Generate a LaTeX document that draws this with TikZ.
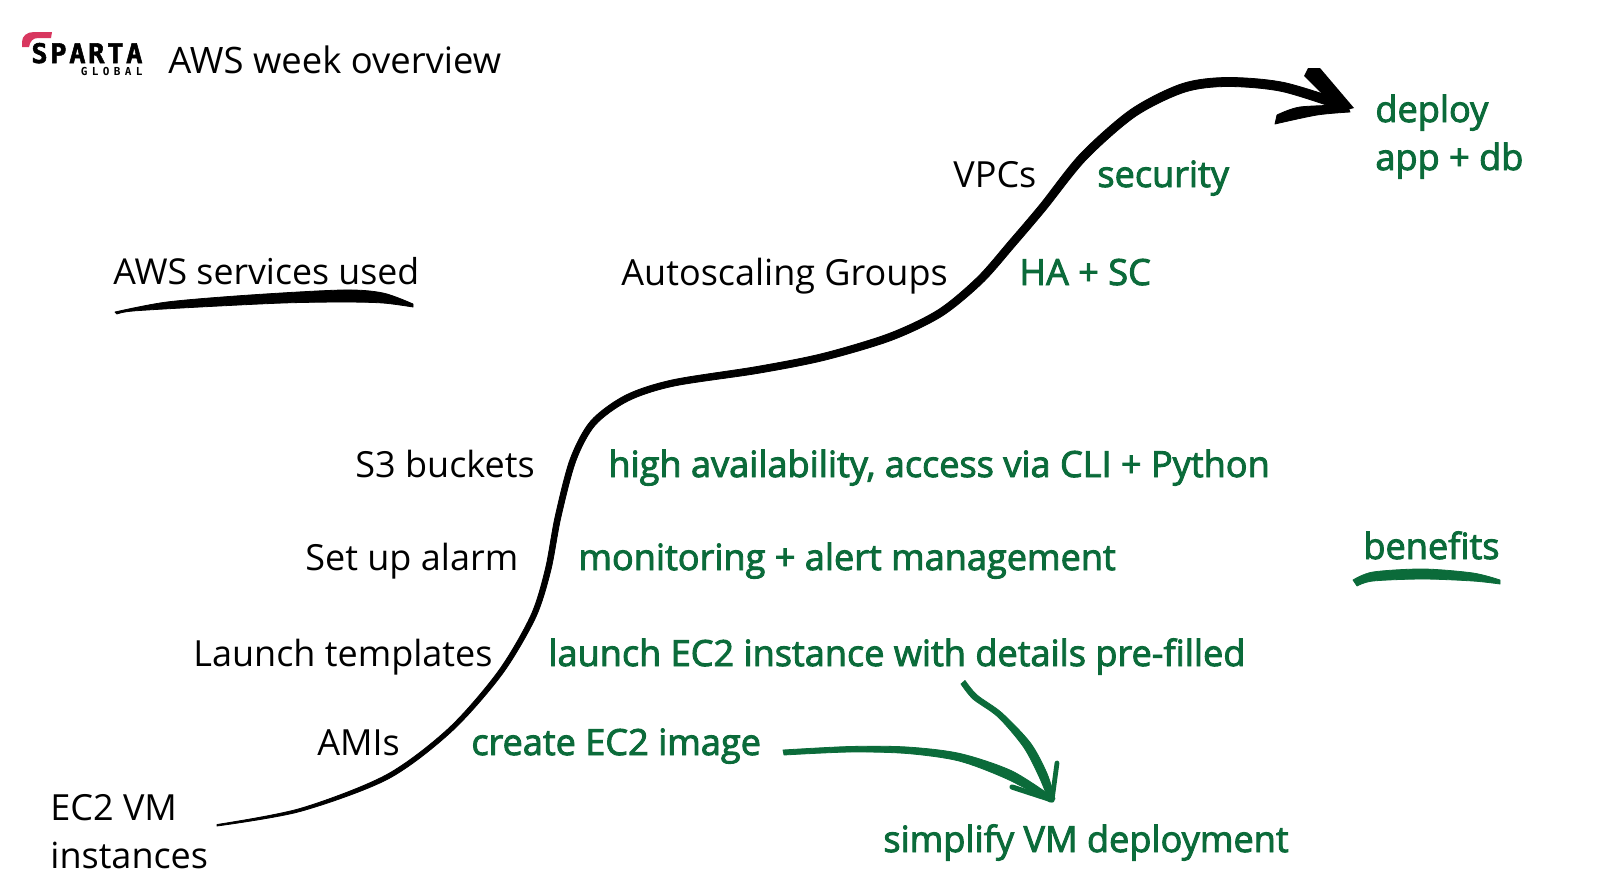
\documentclass[tikz,border=0pt]{standalone}
\usepackage{fontspec}
\setmainfont{Open Sans}
\newfontfamily\greenfont[FakeBold=2.5]{Open Sans}
\newfontfamily\logofont[LetterSpace=10,FakeBold=2]{DejaVu Sans Mono}
\newfontfamily\logosmall[LetterSpace=40]{DejaVu Sans Mono}
\definecolor{spartagreen}{HTML}{0B6B3A}
\definecolor{spartared}{HTML}{D8375F}
\tikzset{
	service/.style={anchor=base west,inner sep=0pt,font=\fontsize{18}{22}\selectfont,text=black},
	benefit/.style={anchor=base west,inner sep=0pt,font=\fontsize{18.05}{22}\selectfont\greenfont,text=spartagreen},
	brush/.style={line cap=round,line join=round},
	stroke/.style={draw=#1,fill=#1,line width=0.4pt,line join=round}
}
\begin{document}
\begin{tikzpicture}[x=0.5pt,y=-0.5pt]
\useasboundingbox (0,0) rectangle (1606,894);

%logo
\fill[spartared] (52,32) -- (51,38) -- (38,38) .. controls (33,38) and (30,41) .. (29,47) -- (22,47) -- (22,42) .. controls (22,36) and (27,32) .. (34,32) -- cycle;
\node[inner sep=0pt,anchor=base west,font=\fontsize{13.5}{15}\selectfont\logofont\bfseries] (sparta) at (31,63) {SPARTA};
\node[inner sep=0pt,anchor=base east,font=\fontsize{5.5}{6}\selectfont\logosmall\bfseries] (global) at (143,75) {GLOBAL};

%titles
\node[service,font=\fontsize{18.2}{22}\selectfont] (title) at (168,73) {AWS week overview};
\node[service,font=\fontsize{17.85}{22}\selectfont] (used) at (113,284) {AWS services used};
\node[benefit] (benefits) at (1363,559) {benefits};

%services
\foreach \name/\x/\y/\txt in {vpc/953/187/VPCs,asg/621/285/Autoscaling Groups,sthree/355/477/S3 buckets,alarm/305/570/Set up alarm,launch/193/666/Launch templates,ami/317/755/AMIs}
	\node[service] (\name) at (\x,\y) {\txt};
\node[service] (ec2) at (50,820) {EC2 VM};
\node[service] (ec2b) at (50,868) {instances};

%benefits
\foreach \name/\x/\y/\txt in {security/1097/187/security,hasc/1019/285/HA + SC,highav/608/477/{high availability, access via CLI + Python},monitor/578/570/monitoring + alert management,prefill/548/666/launch EC2 instance with details pre-filled,image/471/755/create EC2 image,simplify/883/852/simplify VM deployment}
	\node[benefit] (\name) at (\x,\y) {\txt};
\node[benefit] (deploy) at (1375,122) {deploy};
\node[benefit] (appdb) at (1375,170) {app + db};

%curve
\path[stroke=black] plot[smooth] coordinates {(217,824.5) (300,808.5) (386,775) (448.5,728.4) (498,671.6) (530.6,616) (545.3,569.3) (555.2,516.4) (570.2,459) (590.7,421) (625.6,395.2) (672.3,379.9) (756.4,366.6) (822.2,353.6) (888.7,333.6) (938,309.9) (977.3,277.3) (1009,241) (1040,204.5) (1080,154.2) (1130.6,109.6) (1181.6,83.8) (1227,77.5) (1284,82.5) (1348.4,102.4)}
	-- plot[smooth] coordinates {(1345.6,111.6) (1282,91.5) (1227,86.5) (1184.4,92.2) (1135.4,116.4) (1086,159.8) (1046,209.5) (1015,246) (982.7,282.7) (942,316.1) (891.3,340.4) (823.8,360.4) (757.6,373.4) (673.7,386.1) (628.4,400.8) (595.3,425) (575.8,461) (560.8,517.6) (550.7,570.7) (535.4,618) (502,674.4) (451.5,731.6) (388,779) (300,811.5) (217,826)} -- cycle;
%arrow head
\fill (1354,108) -- (1340,112) -- (1304,76) -- (1308,68) -- (1320,68) -- cycle;
\path[stroke=black] plot[smooth] coordinates {(1347,105) (1300,107) (1277,115)} -- plot[smooth] coordinates {(1275,124) (1317,115) (1350,112)} -- cycle;

%underlines
\path[stroke=black] plot[smooth] coordinates {(115,312) (167,302) (250,295) (343,290) (383,293) (413,304)} -- plot[smooth] coordinates {(413,307) (383,303) (343,302) (283,303) (200,307) (133,311) (117,314)} -- cycle;
\path[stroke=spartagreen] plot[smooth] coordinates {(1353,580) (1373,572) (1423,569) (1473,573) (1500,580)} -- plot[smooth] coordinates {(1500,584) (1473,581) (1423,579) (1373,581) (1357,586)} -- cycle;

%green arrows
\coordinate (gtip) at (1052,800);
\coordinate (gback) at (1012,787);
\coordinate (gup) at (1057,763);
\path[stroke=spartagreen] plot[smooth] coordinates {(783,750) (850,746.5) (907,747) (960,753.5) (1012,771) (1054,798)} -- plot[smooth] coordinates {(1050,802) (1007,779) (959,761) (907,753.5) (850,752) (784,755)} -- cycle;
\path[stroke=spartagreen] plot[smooth] coordinates {(965,680.5) (977,695) (1002,713) (1030.5,743) (1047,773.5) (1055,799)} -- plot[smooth] coordinates {(1049,801) (1039,776.5) (1023.5,747) (998,717) (973,699) (961,684)} -- cycle;
\draw[brush,spartagreen,line width=2.6pt] (gback) -- (gtip);
\draw[brush,spartagreen,line width=2.4pt] (gup) -- (gtip);
\end{tikzpicture}
\end{document}
